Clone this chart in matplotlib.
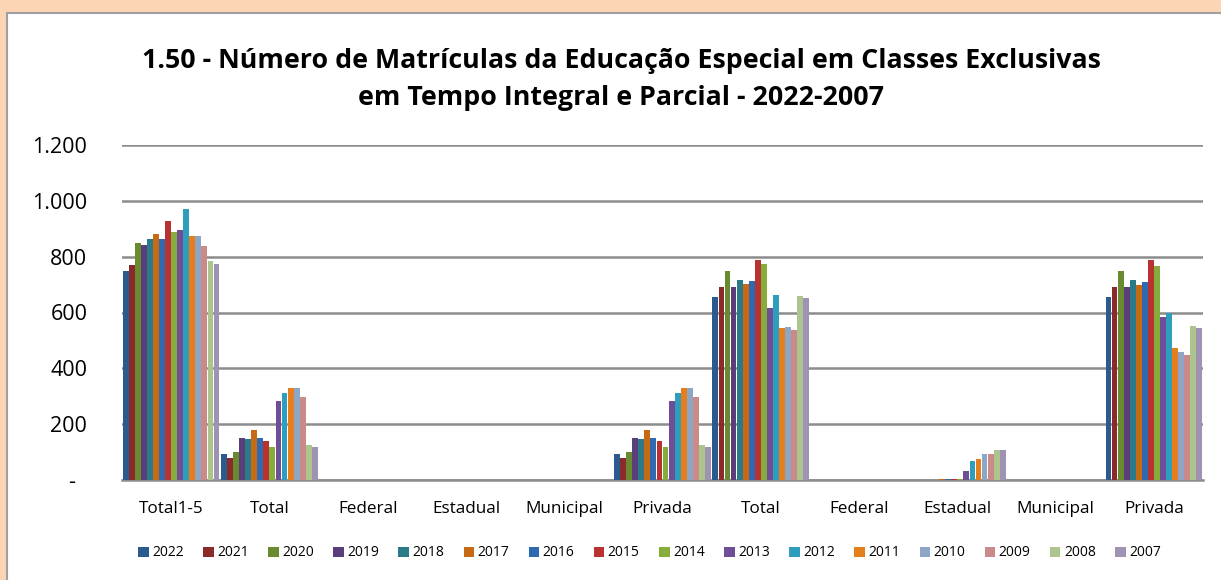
import matplotlib
matplotlib.use("Agg")
import matplotlib.pyplot as plt
from matplotlib.patches import Rectangle
from matplotlib.ticker import FuncFormatter
import numpy as np

categories = ["Total1-5", "Total", "Federal", "Estadual", "Municipal", "Privada",
              "Total", "Federal", "Estadual", "Municipal", "Privada"]
years = ["2022", "2021", "2020", "2019", "2018", "2017", "2016", "2015",
         "2014", "2013", "2012", "2011", "2010", "2009", "2008", "2007"]

total_1_5 = [748, 770, 849, 842, 862, 882, 864, 929, 887, 896, 972, 875, 875, 838, 784, 773]
total_a = [92, 80, 100, 150, 147, 179, 150, 139, 117, 283, 312, 329, 329, 298, 124, 120]
federal_a = [0] * 16
estadual_a = [0] * 16
municipal_a = [0] * 16
privada_a = [92, 80, 100, 150, 147, 179, 150, 139, 117, 283, 312, 329, 329, 298, 124, 120]
total_b = [655, 691, 749, 691, 716, 702, 713, 788, 774, 616, 662, 544, 547, 537, 659, 651]
federal_b = [0] * 16
estadual_b = [0, 0, 0, 0, 0, 3, 4, 3, 5, 31, 67, 75, 93, 93, 107, 107]
municipal_b = [0] * 16
privada_b = [655, 691, 749, 691, 716, 699, 709, 788, 766, 583, 599, 472, 458, 446, 551, 544]

series_by_cat = [total_1_5, total_a, federal_a, estadual_a, municipal_a, privada_a,
                 total_b, federal_b, estadual_b, municipal_b, privada_b]
values = np.array(series_by_cat).T  # shape (years, categories)

colors = ["#2B5A8C", "#8B2A2A", "#6A8A30", "#5A3E7A", "#2A7A8A", "#C86A14",
          "#2F6AB0", "#B83232", "#86AC3C", "#6E4E96", "#2E9EBC", "#E67E1E",
          "#8EA6C6", "#C98A88", "#AEC48E", "#A092B2"]

W, H = 1221, 580
fig = plt.figure(figsize=(W / 100, H / 100), dpi=100)
fig.patch.set_facecolor("#FCD5B5")
fig.patches.append(Rectangle((7 / W, -0.01), 1, 1.01 - 13 / H, transform=fig.transFigure,
                             facecolor="white", edgecolor="#A0A0A0", linewidth=1.5, zorder=-10))

left, right = 122 / W, 1203 / W
bottom, top = 1 - 480 / H, 1 - 145 / H
ax = fig.add_axes([left, bottom, right - left, top - bottom])
ax.set_facecolor("none")
ax.set_zorder(5)

n_cat = len(categories)
n_ser = len(years)
x = np.arange(n_cat)
group_w = 0.985
bw = group_w / n_ser
for i in range(n_ser):
    offs = -group_w / 2 + bw * (i + 0.5)
    ax.bar(x + offs, values[i], width=bw * 0.97, color=colors[i], label=years[i],
           edgecolor="none", zorder=3)

ax.set_xlim(-0.5, n_cat - 0.5)
ax.set_ylim(0, 1200)
ax.set_yticks(np.arange(0, 1201, 200))
ax.yaxis.set_major_formatter(FuncFormatter(
    lambda v, p: "-  " if v == 0 else f"{int(v):,}".replace(",", ".")))
ax.grid(axis="y", color="#8C8C8C", linewidth=1.8, zorder=0)
for s in ["top", "right", "left"]:
    ax.spines[s].set_visible(False)
ax.spines["bottom"].set_color("#8C8C8C")
ax.spines["bottom"].set_linewidth(1.8)
ax.tick_params(axis="both", length=0)
ax.tick_params(axis="y", labelsize=15.5, pad=25)
ax.set_xticks(x)
ax.set_xticklabels(categories, fontsize=12.3)
ax.tick_params(axis="x", pad=15)
for lab in ax.get_xticklabels() + ax.get_yticklabels():
    lab.set_family(["Open Sans", "DejaVu Sans"])

fig.text(0.509, 1 - 61 / H, "1.50 - Número de Matrículas da Educação Especial em Classes Exclusivas",
         ha="center", va="center", fontsize=19.3, fontweight="bold", family=["Open Sans", "DejaVu Sans"])
fig.text(0.509, 1 - 98 / H, "em Tempo Integral e Parcial - 2022-2007",
         ha="center", va="center", fontsize=19.3, fontweight="bold", family=["Open Sans", "DejaVu Sans"])

handles, labels = ax.get_legend_handles_labels()
leg = fig.legend(handles, labels, loc="center", bbox_to_anchor=(0.532, 1 - 553 / H), ncol=16,
                 frameon=False, handlelength=0.75, handleheight=0.75,
                 handletextpad=0.25, columnspacing=1.4,
                 prop={"family": ["Open Sans", "DejaVu Sans"], "size": 10})

fig.savefig("out.png", dpi=100, facecolor=fig.get_facecolor())
